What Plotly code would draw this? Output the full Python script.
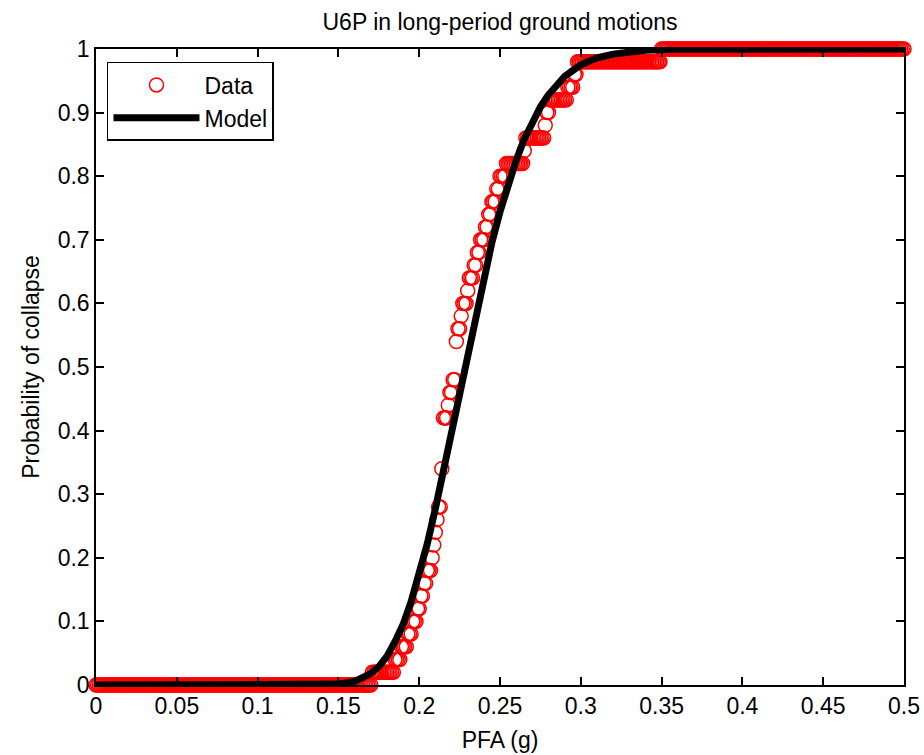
import numpy as np
import plotly.graph_objects as go

# Sorted PFA (g) at collapse for each of the 50 records (read from the CDF steps)
collapse_pfa = [0.171, 0.185, 0.189, 0.193, 0.196, 0.199, 0.201, 0.203, 0.205, 0.208,
                0.209, 0.210, 0.211, 0.212, 0.214, 0.214, 0.214, 0.215, 0.215, 0.215,
                0.215, 0.218, 0.219, 0.221, 0.223, 0.223, 0.223, 0.224, 0.226, 0.227,
                0.230, 0.231, 0.234, 0.236, 0.238, 0.241, 0.243, 0.245, 0.248, 0.250,
                0.254, 0.265, 0.266, 0.278, 0.279, 0.281, 0.292, 0.296, 0.298, 0.350]

# PFA values at which the empirical probability of collapse was evaluated
pfa_grid = np.round(np.arange(0.0, 0.5005, 0.001), 3)

# Fitted model curve
model_pfa = [0.0, 0.05, 0.10, 0.14, 0.15, 0.16, 0.165, 0.17, 0.175, 0.18, 0.185, 0.19,
             0.195, 0.20, 0.205, 0.21, 0.215, 0.22, 0.225, 0.23, 0.235, 0.24, 0.245,
             0.25, 0.255, 0.26, 0.265, 0.27, 0.275, 0.28, 0.285, 0.29, 0.30, 0.31,
             0.32, 0.33, 0.34, 0.36, 0.40, 0.45, 0.50]
model_prob = [0.0, 0.0, 0.0, 0.0003, 0.0014, 0.0056, 0.0104, 0.018, 0.029, 0.045, 0.068,
              0.095, 0.131, 0.175, 0.222, 0.277, 0.337, 0.399, 0.460, 0.523, 0.585,
              0.642, 0.696, 0.744, 0.788, 0.825, 0.858, 0.886, 0.909, 0.928, 0.944,
              0.957, 0.975, 0.986, 0.992, 0.996, 0.998, 0.9995, 1.0, 1.0, 1.0]

x_ticks = [0, 0.05, 0.1, 0.15, 0.2, 0.25, 0.3, 0.35, 0.4, 0.45, 0.5]
x_tick_labels = ["0", "0.05", "0.1", "0.15", "0.2", "0.25", "0.3", "0.35", "0.4", "0.45", "0.5"]
y_ticks = [0, 0.1, 0.2, 0.3, 0.4, 0.5, 0.6, 0.7, 0.8, 0.9, 1]
y_tick_labels = ["0", "0.1", "0.2", "0.3", "0.4", "0.5", "0.6", "0.7", "0.8", "0.9", "1"]

sorted_pfa = np.sort(np.array(collapse_pfa))
data_prob = np.searchsorted(sorted_pfa, pfa_grid + 1e-9, side="right") / len(sorted_pfa)

FONT = "Liberation Sans, Arial, Helvetica, sans-serif"
FS = 23

fig = go.Figure()
fig.add_trace(go.Scatter(
    x=pfa_grid, y=data_prob, mode="markers", name="Data",
    marker=dict(symbol="circle-open", size=14, color="#ff0000", line=dict(width=1.5, color="#ff0000")),
    cliponaxis=False,
))
fig.add_trace(go.Scatter(
    x=model_pfa, y=model_prob, mode="lines", name="Model",
    line=dict(color="black", width=7), cliponaxis=False,
))

axis_common = dict(
    showline=True, linecolor="black", linewidth=1.5, mirror="ticks",
    ticks="inside", ticklen=8, tickwidth=1.5, tickcolor="black",
    showgrid=False, zeroline=False, automargin=False,
    tickfont=dict(family=FONT, size=FS, color="black"),
)

fig.update_layout(
    width=924, height=755, autosize=False,
    margin=dict(l=96, r=20, t=49, b=70),
    paper_bgcolor="white", plot_bgcolor="white",
    font=dict(family=FONT, size=FS, color="black"),
    title=dict(text="U6P in long-period ground motions", x=0.5, xref="paper",
               y=1 - 22 / 755, yref="container", yanchor="middle", automargin=False,
               font=dict(family=FONT, size=FS, color="black")),
    xaxis=dict(range=[0, 0.5], tickvals=x_ticks, ticktext=x_tick_labels,
               title=dict(text="PFA (g)", standoff=14, font=dict(family=FONT, size=FS)),
               **axis_common),
    yaxis=dict(range=[0, 1], tickvals=y_ticks, ticktext=y_tick_labels,
               title=dict(text="Probability of collapse", standoff=12, font=dict(family=FONT, size=FS)),
               **axis_common),
    legend=dict(x=0.0136, y=0.9796, xanchor="left", yanchor="top",
                bordercolor="black", borderwidth=1.5, bgcolor="white",
                font=dict(family=FONT, size=FS, color="black"),
                itemwidth=86, tracegroupgap=0),
    showlegend=True,
)

fig.write_html("out.html")
